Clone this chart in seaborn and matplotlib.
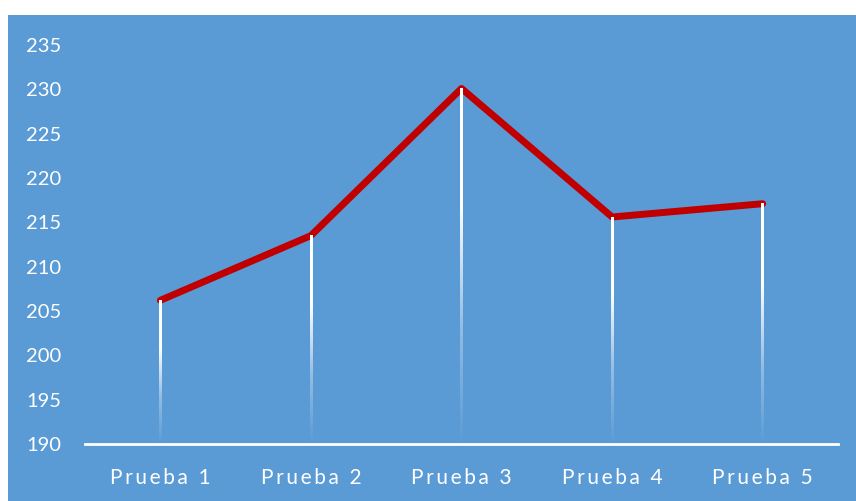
import numpy as np
import pandas as pd
import matplotlib
matplotlib.use("Agg")
import matplotlib.pyplot as plt
from matplotlib.colors import LinearSegmentedColormap
import seaborn as sns

categorias = ["Prueba 1", "Prueba 2", "Prueba 3", "Prueba 4", "Prueba 5"]
valores = [206.2, 213.5, 230.1, 215.6, 217.1]
y_ticks = [190, 195, 200, 205, 210, 215, 220, 225, 230, 235]

FONDO = "#5B9BD5"
ROJO = "#C00000"

sns.set_theme(style="white")
plt.rcParams["font.family"] = ["Lato", "DejaVu Sans"]

fig = plt.figure(figsize=(8.56, 5.01), dpi=100)
fig.patch.set_facecolor("white")

# blue chart area behind the plot
bg = fig.add_axes([8 / 856, 0, 1 - 8 / 856, 1 - 15 / 501], zorder=-1)
bg.set_facecolor(FONDO)
bg.set_xticks([])
bg.set_yticks([])
for s in bg.spines.values():
    s.set_visible(False)

ax = fig.add_axes([85 / 856, 57 / 501, (838 - 85) / 856, (456 - 57) / 501], zorder=1)
ax.set_facecolor("none")

df = pd.DataFrame({"x": np.arange(len(categorias)), "valor": valores})
sns.lineplot(data=df, x="x", y="valor", ax=ax, color=ROJO, linewidth=5.0,
             solid_capstyle="round", solid_joinstyle="round", zorder=2)

# drop lines: white at the point, fading into the background at the axis
fade = LinearSegmentedColormap.from_list(
    "fade", [(1, 1, 1, 0.0), (1, 1, 1, 0.35), (1, 1, 1, 1.0), (1, 1, 1, 1.0)])
grad = np.linspace(0, 1, 256).reshape(-1, 1)
half_w = 0.0085
ymin = y_ticks[0]
for xi, v in zip(df["x"], df["valor"]):
    ax.imshow(grad, cmap=fade, origin="lower", aspect="auto",
              extent=(xi - half_w, xi + half_w, ymin, v),
              interpolation="bilinear", zorder=3)

ax.set_xlim(-0.5, len(categorias) - 0.5)
ax.set_ylim(y_ticks[0], y_ticks[-1])
ax.set_xticks(df["x"])
ax.set_xticklabels(["\u2009".join(c) for c in categorias])
ax.set_yticks(y_ticks)
ax.set_xlabel("")
ax.set_ylabel("")

for s in ["top", "right", "left"]:
    ax.spines[s].set_visible(False)
ax.spines["bottom"].set_color("white")
ax.spines["bottom"].set_linewidth(2.0)
ax.spines["bottom"].set_zorder(4)

ax.tick_params(axis="both", length=0, colors="white", labelsize=14.5)
ax.tick_params(axis="y", pad=17)
ax.tick_params(axis="x", pad=17, labelsize=15)

fig.savefig("out.png", dpi=100, facecolor=fig.get_facecolor())
